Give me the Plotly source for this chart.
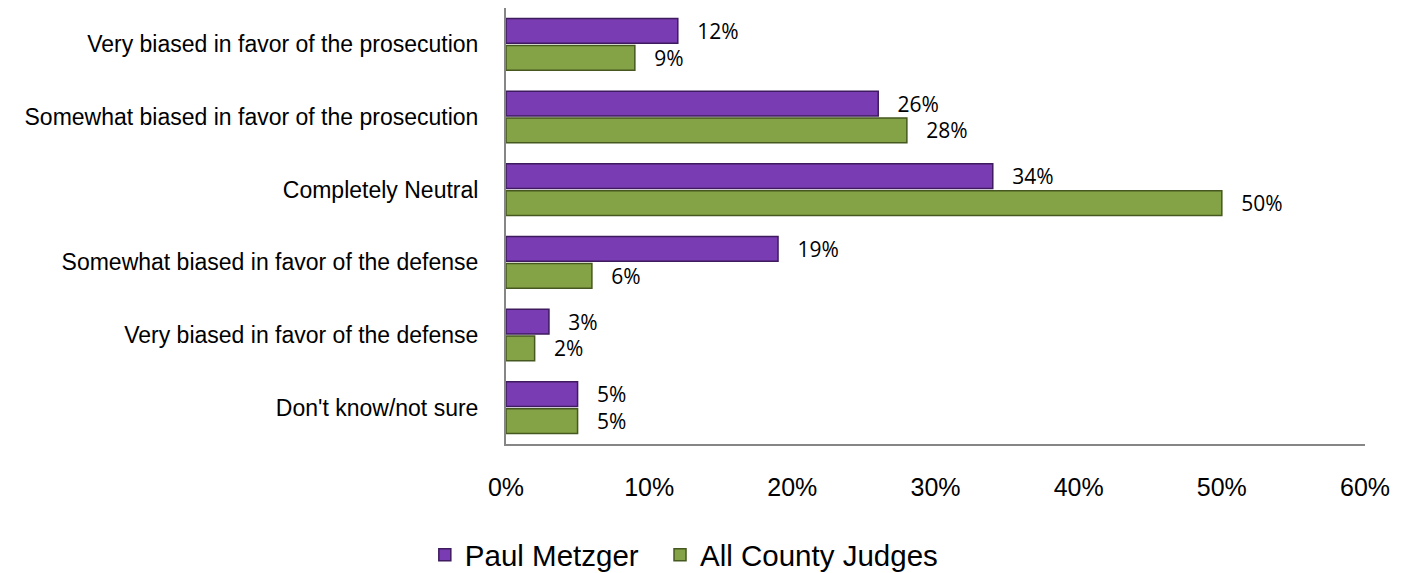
import plotly.graph_objects as go

categories = [
    "Very biased in favor of the prosecution",
    "Somewhat biased in favor of the prosecution",
    "Completely Neutral",
    "Somewhat biased in favor of the defense",
    "Very biased in favor of the defense",
    "Don't know/not sure",
]
paul = [12, 26, 34, 19, 3, 5]
judges = [9, 28, 50, 6, 2, 5]
series_names = ["Paul Metzger", "All County Judges"]
tick_vals = [0, 10, 20, 30, 40, 50, 60]
tick_text = ["0%", "10%", "20%", "30%", "40%", "50%", "60%"]

fig = go.Figure()
for name, vals, col, line, pad in [
    (series_names[0], paul, "#7A3CB2", "#3E1A5E", "\u00a0\u00a0"),
    (series_names[1], judges, "#84A346", "#45581F", ""),
]:
    fig.add_trace(go.Bar(
        y=categories, x=vals, name=name + pad, orientation="h",
        marker=dict(color=col, line=dict(color=line, width=1.5)),
        text=["   %d%%" % v for v in vals],
        textposition="outside",
        textfont=dict(family="Open Sans, Lato, sans-serif", size=21, color="#000"),
        constraintext="none",
        cliponaxis=False,
    ))

fig.update_layout(
    width=1411, height=573,
    margin=dict(l=498, r=54, t=0, b=135),
    barmode="group",
    bargap=0.26, bargroupgap=0.08,
    plot_bgcolor="white", paper_bgcolor="white",
    font=dict(family="Liberation Sans, Arial, sans-serif", color="#000"),
    xaxis=dict(range=[0, 60], tickvals=tick_vals, ticktext=tick_text,
               showgrid=False, zeroline=False, showline=True,
               linecolor="#868686", linewidth=2,
               ticks="", tickfont=dict(size=25), ticklabelstandoff=20),
    yaxis=dict(autorange="reversed", showgrid=False, zeroline=False,
               showline=True, linecolor="#868686", linewidth=2,
               ticks="", tickfont=dict(size=23), ticklabelstandoff=21),
    legend=dict(orientation="h", x=0.207, xanchor="center", y=-0.255,
                yanchor="middle", font=dict(size=29.5), itemwidth=30),
    showlegend=True,
)
fig.write_html("out.html")
